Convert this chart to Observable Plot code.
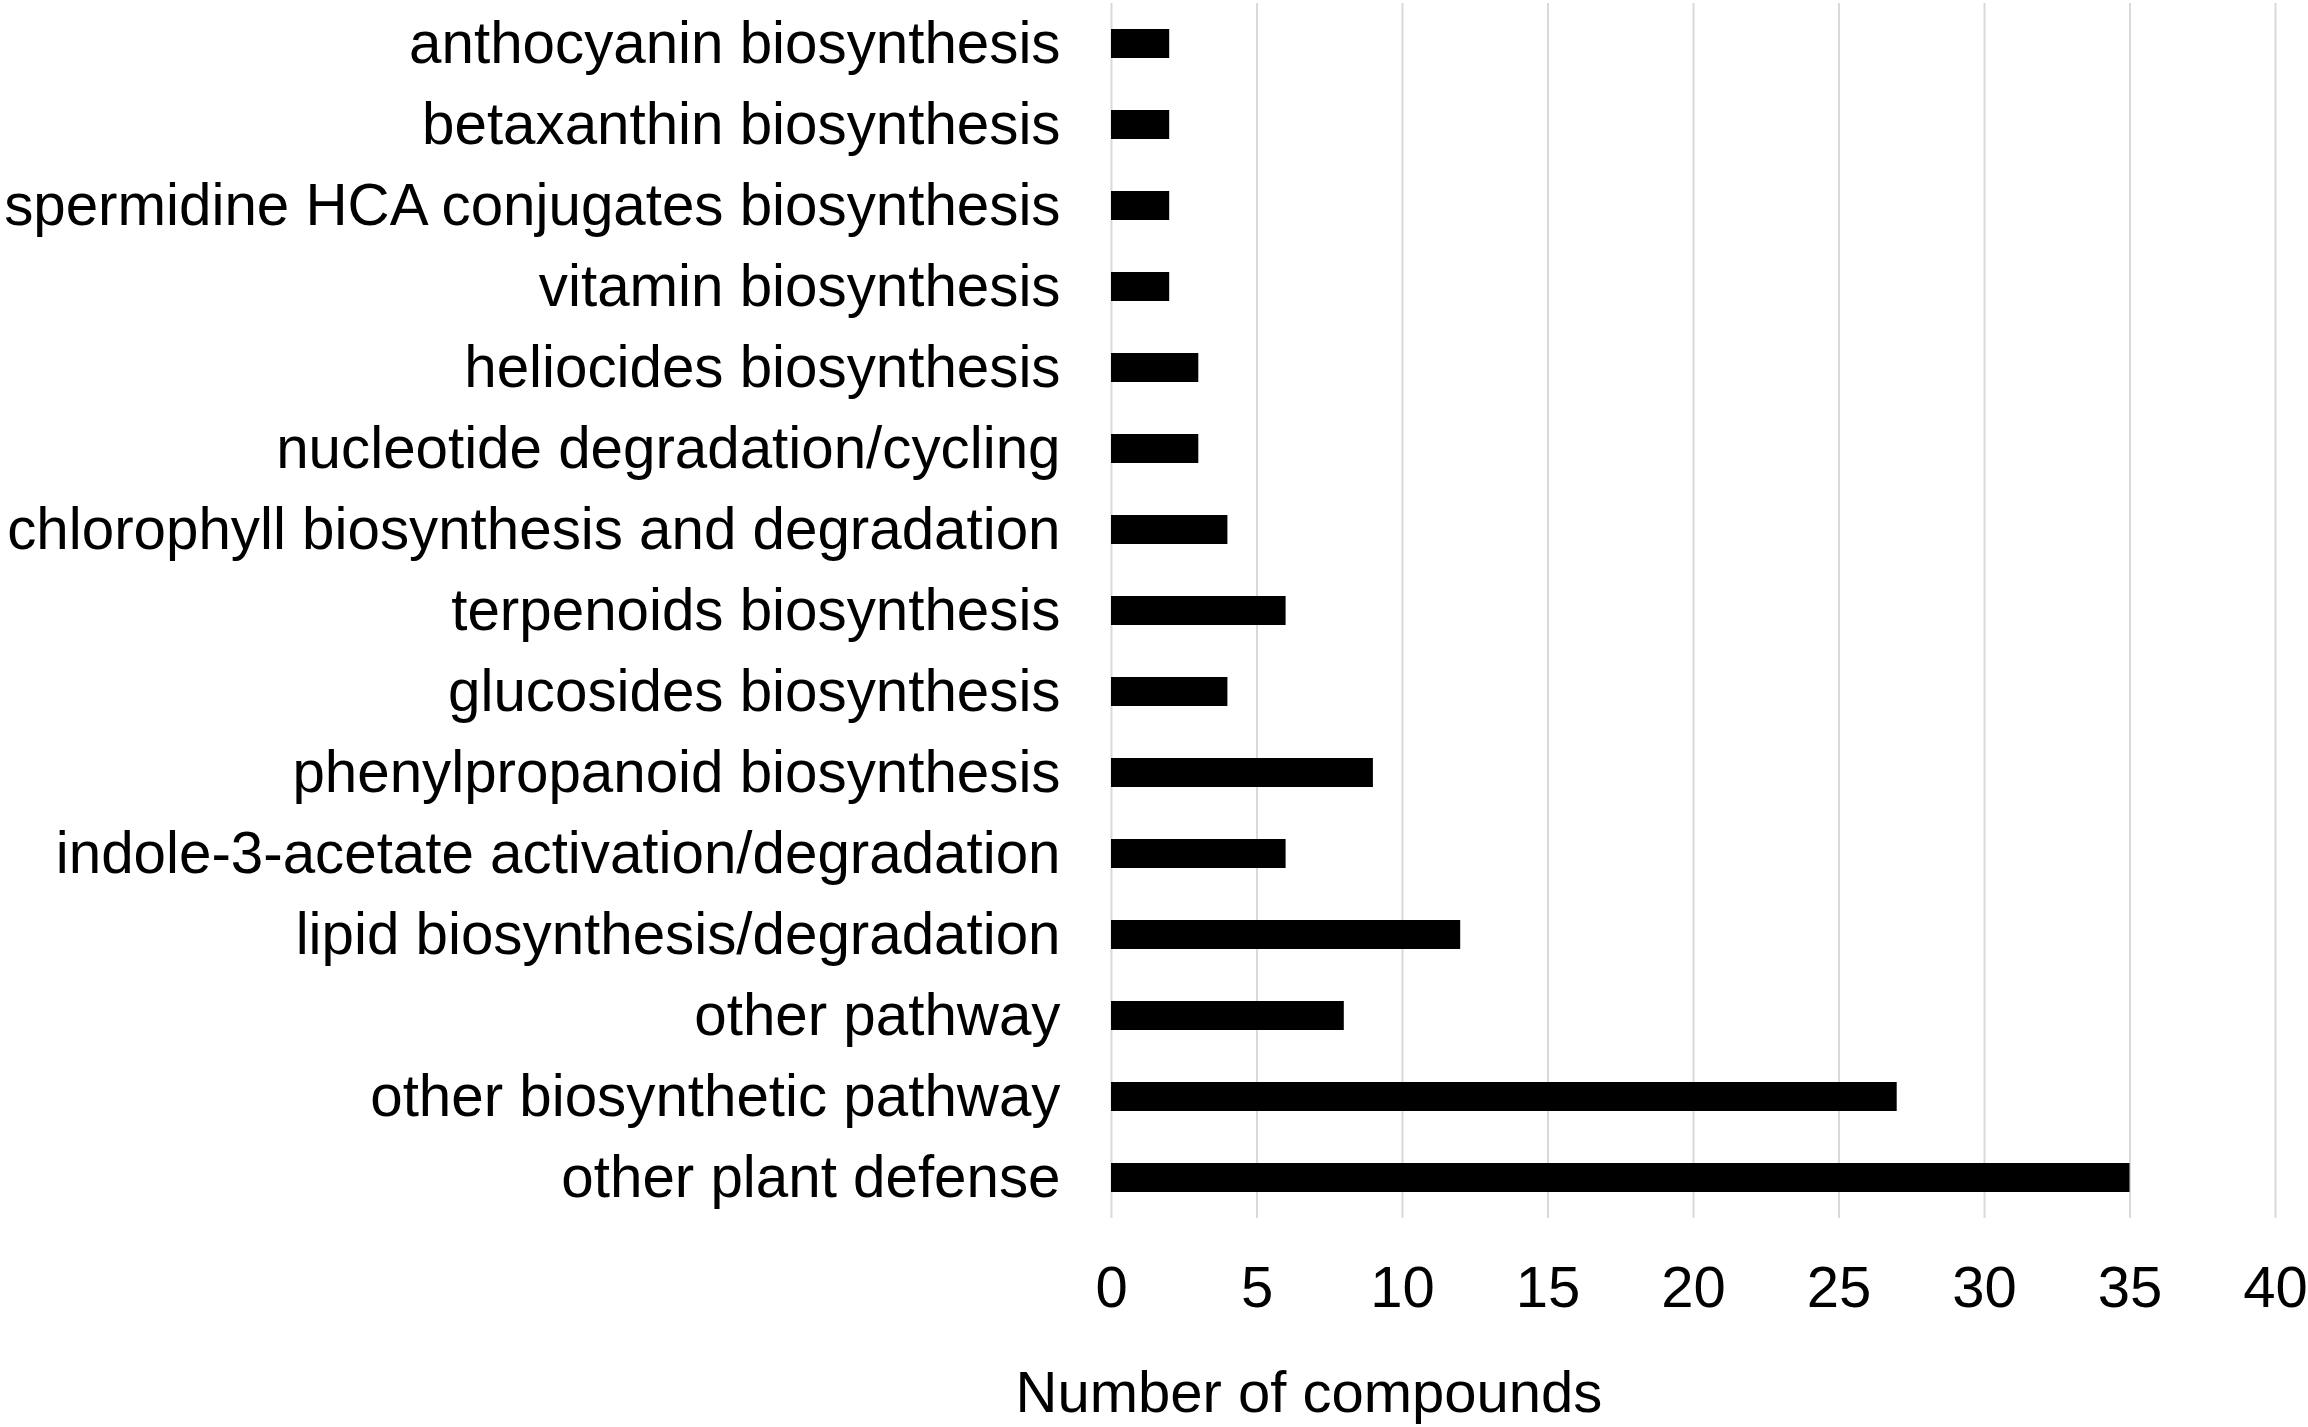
<!DOCTYPE html>
<html>
<head>
<meta charset="utf-8">
<script src="https://cdn.jsdelivr.net/npm/d3@7"></script>
<script src="https://cdn.jsdelivr.net/npm/@observablehq/plot@0.6"></script>
<style>
  html, body { margin: 0; padding: 0; background: #fff; }
  #chart svg { display: block; }
</style>
</head>
<body>
<div id="chart"></div>
<script>
const categories = [
  "anthocyanin biosynthesis",
  "betaxanthin biosynthesis",
  "spermidine HCA conjugates biosynthesis",
  "vitamin biosynthesis",
  "heliocides biosynthesis",
  "nucleotide degradation/cycling",
  "chlorophyll biosynthesis and degradation",
  "terpenoids biosynthesis",
  "glucosides biosynthesis",
  "phenylpropanoid biosynthesis",
  "indole-3-acetate activation/degradation",
  "lipid biosynthesis/degradation",
  "other pathway",
  "other biosynthetic pathway",
  "other plant defense"
];
const counts = [2, 2, 2, 2, 3, 3, 4, 6, 4, 9, 6, 12, 8, 27, 35];
const xTicks = [0, 5, 10, 15, 20, 25, 30, 35, 40];
const xLabel = "Number of compounds";

const data = categories.map((c, i) => ({category: c, value: counts[i]}));

const chart = Plot.plot({
  width: 2308,
  height: 1427,
  marginLeft: 1111,
  marginRight: 33,
  marginTop: 3,
  marginBottom: 209,
  style: {fontFamily: "'Liberation Sans', Arial, sans-serif", fontSize: "58px", color: "#000", background: "#fff"},
  x: {domain: [0, 40], ticks: xTicks, label: null},
  y: {domain: categories, paddingInner: 0.64, paddingOuter: 0.32, label: null},
  marks: [
    Plot.gridX(xTicks, {stroke: "#d9d9d9", strokeOpacity: 1, strokeWidth: 2}),
    Plot.barX(data, {x: "value", y: "category", fill: "#000"}),
    Plot.axisX(xTicks, {tickSize: 0, tickPadding: 47, fontSize: 58, label: null}),
    Plot.axisY({tickSize: 0, tickPadding: 51, fontSize: 58.3, label: null}),
    Plot.text([xLabel], {
      text: d => d,
      frameAnchor: "bottom-left",
      textAnchor: "start",
      lineAnchor: "top",
      dx: -96,
      dy: 152,
      fontSize: 58
    })
  ]
});
document.getElementById("chart").appendChild(chart);
</script>
</body>
</html>
